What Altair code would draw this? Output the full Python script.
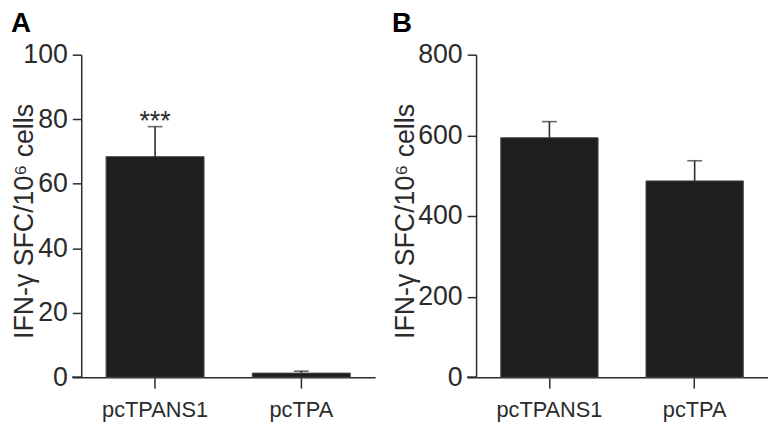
import altair as alt
import pandas as pd

groups = ["pcTPANS1", "pcTPA"]
a_mean = [68.4, 1.3]
a_upper = [77.7, 1.9]
a_sig = ["***", ""]
a_ticks = [0, 20, 40, 60, 80, 100]
b_mean = [594, 487]
b_upper = [634, 537]
b_sig = ["", ""]
b_ticks = [0, 200, 400, 600, 800]
y_title = "IFN-γ SFC/10⁶ cells"

FONT = "Liberation Sans"
INK = "#2b2b2b"
H = 326


def panel(mean, upper, sig, ticks, letter, width, title_x):
    df = pd.DataFrame({"group": groups, "mean": mean, "upper": upper, "sig": sig})
    xenc = alt.X(
        "group:N", sort=groups, title=None,
        scale=alt.Scale(paddingInner=0.33, paddingOuter=0.17),
        axis=alt.Axis(labelAngle=0, labelFontSize=22, labelPadding=12, tickSize=11,
                      labelColor=INK, labelFont=FONT),
    )
    xs = alt.X("group:N", sort=groups)
    yenc = alt.Y(
        "mean:Q", scale=alt.Scale(domain=[ticks[0], ticks[-1]], nice=False),
        title=y_title,
        axis=alt.Axis(values=ticks, grid=False, labelFontSize=27, tickSize=9,
                      labelPadding=5, labelColor=INK, labelFont=FONT,
                      titleFontSize=27, titleFontWeight="normal", titleColor=INK,
                      titleFont=FONT, titleX=title_x, titleY=H / 2 + 5,
                      titleBaseline="alphabetic", titleAngle=270, titleAlign="center"),
    )
    base = alt.Chart(df)
    bars = base.mark_bar(color="#1e1e1e", stroke="#4a4a4a", strokeWidth=1).encode(x=xenc, y=yenc)
    err = base.mark_rule(color=INK, strokeWidth=1.6).encode(x=xs, y="mean:Q", y2="upper:Q")
    cap = base.mark_tick(color=INK, thickness=1.6, size=15).encode(x=xs, y="upper:Q")
    star = base.mark_text(fontSize=27, baseline="alphabetic", dy=3, color=INK, font=FONT).encode(
        x=xs, y="upper:Q", text="sig:N")
    ext = base.mark_rule(color=INK, strokeWidth=1.5).encode(
        x=alt.value(-9), x2=alt.value(0), y=alt.datum(0))
    return alt.layer(bars, err, cap, star, ext).properties(
        width=width, height=H,
        title=alt.TitleParams(letter, anchor="start", frame="bounds", fontSize=28,
                              fontWeight="bold", color="black", font=FONT, offset=3),
    )


pa = panel(a_mean, a_upper, a_sig, a_ticks, "A", 297, -49)
pb = panel(b_mean, b_upper, b_sig, b_ticks, "B", 295, -63)

chart = alt.hconcat(pa, pb, spacing=17).properties(
    padding={"left": 3, "top": 0, "right": 0, "bottom": 0}
).configure_view(
    stroke=None
).configure_axis(
    domainColor=INK, tickColor=INK, domainWidth=1.5, tickWidth=1.5
)

chart.save("out.html", embed_options={"renderer": "svg", "actions": False})
